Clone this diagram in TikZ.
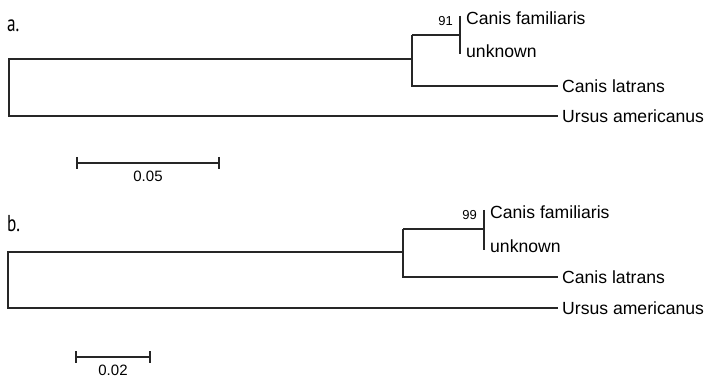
\documentclass[tikz,border=0pt]{standalone}
\usepackage{fontspec}
\setmainfont{Liberation Sans}
\newfontfamily\panelfont{PT Sans}
\usetikzlibrary{calc}
\begin{document}
\begin{tikzpicture}[x=1pt,y=-1pt,
  br/.style={line width=1.1pt, draw=black!85},
  leaf/.style={anchor=west, inner sep=0pt, font=\fontsize{17.6}{17.6}\selectfont},
  tleaf/.style={anchor=west, inner xsep=4pt, inner ysep=0pt, font=\fontsize{17.6}{17.6}\selectfont},
  boot/.style={anchor=base east, inner sep=0pt, font=\fontsize{13}{13}\selectfont},
  scl/.style={anchor=north, inner sep=0pt, font=\fontsize{15}{15}\selectfont},
  panel/.style={anchor=base west, inner sep=0pt, font=\panelfont\fontsize{23}{23}\selectfont, xscale=0.75}]
\useasboundingbox (0,0) rectangle (707,382);
% ---------- panel a ----------
\node[panel] (la) at (7,32) {a.};
\coordinate (ar1) at (9,59);
\coordinate (ar2) at (9,116);
\coordinate (an1) at (412,59);
\coordinate (an1t) at (412,35);
\coordinate (an1b) at (412,86);
\coordinate (an2) at (460,35);
\coordinate (an2t) at (460,16);
\coordinate (an2b) at (460,54);
\node[leaf] (acf) at (466,18) {Canis familiaris};
\node[leaf] (aun) at (466,51) {unknown};
\node[tleaf] (acl) at (558,86) {Canis latrans};
\node[tleaf] (aua) at (558,116) {Ursus americanus};
\node[boot] (a91) at (453,26) {91};
\draw[br] (an1) -- (ar1) -- (ar2) -- (aua.west);
\draw[br] (an1t) -- (an1b) -- (acl.west);
\draw[br] (an1t) -- (an2);
\draw[br] (an2t) -- (an2b);
\coordinate (asl) at (77,163);
\coordinate (asr) at (219,163);
\draw[br] (asl) -- (asr);
\draw[br] ($(asl)+(0,-6)$) -- ($(asl)+(0,6)$);
\draw[br] ($(asr)+(0,-6)$) -- ($(asr)+(0,6)$);
\node[scl] (as) at (148,171) {0.05};
% ---------- panel b ----------
\node[panel] (lb) at (7,232) {b.};
\coordinate (br1) at (8,252);
\coordinate (br2) at (8,308);
\coordinate (bn1) at (403,252);
\coordinate (bn1t) at (403,229);
\coordinate (bn1b) at (403,277);
\coordinate (bn2) at (484,229);
\coordinate (bn2t) at (484,210);
\coordinate (bn2b) at (484,250);
\node[leaf] (bcf) at (490,212) {Canis familiaris};
\node[leaf] (bun) at (490,246) {unknown};
\node[tleaf] (bcl) at (558,277) {Canis latrans};
\node[tleaf] (bua) at (558,308) {Ursus americanus};
\node[boot] (b99) at (477,220) {99};
\draw[br] (bn1) -- (br1) -- (br2) -- (bua.west);
\draw[br] (bn1t) -- (bn1b) -- (bcl.west);
\draw[br] (bn1t) -- (bn2);
\draw[br] (bn2t) -- (bn2b);
\coordinate (bsl) at (76,357);
\coordinate (bsr) at (150,357);
\draw[br] (bsl) -- (bsr);
\draw[br] ($(bsl)+(0,-6)$) -- ($(bsl)+(0,6)$);
\draw[br] ($(bsr)+(0,-6)$) -- ($(bsr)+(0,6)$);
\node[scl] (bs) at (113,365) {0.02};
\end{tikzpicture}
\end{document}
